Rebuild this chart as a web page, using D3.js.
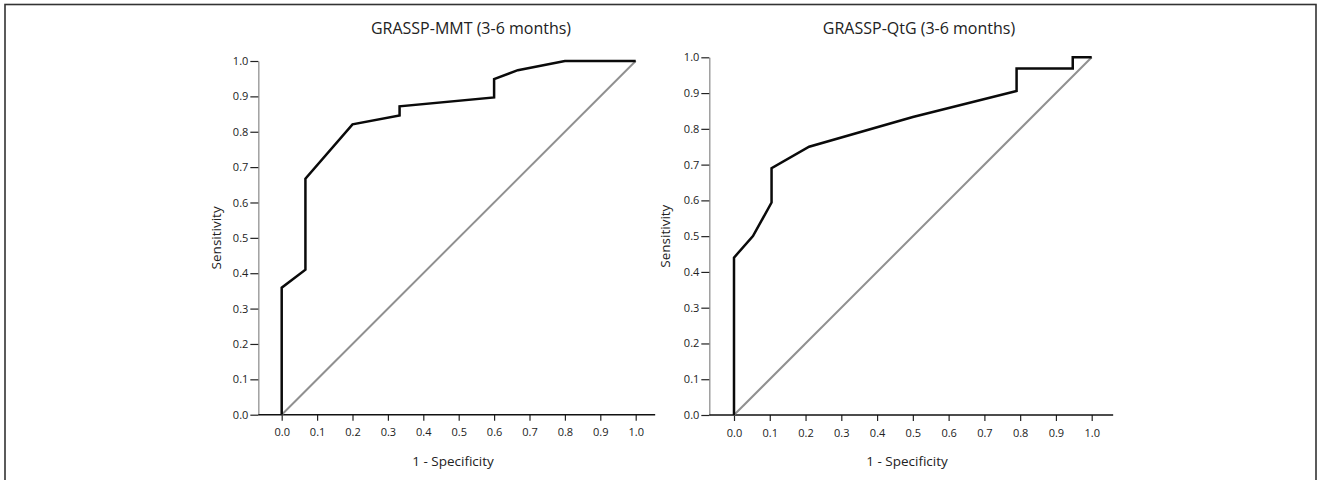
<!DOCTYPE html>
<html>
<head>
<meta charset="utf-8">
<script src="https://cdn.jsdelivr.net/npm/d3@7"></script>
<style>
  body { margin: 0; background: #fff; }
  svg text { font-family: "Open Sans", "Noto Sans", sans-serif; fill: #222; }
</style>
</head>
<body>
<div id="viz"></div>
<script>
const width = 1318;
const height = 480;

// ROC points (1 - specificity, sensitivity)
const mmtFpr = [0, 0, 0.067, 0.067, 0.2, 0.333, 0.333, 0.6, 0.6, 0.667, 0.8, 1];
const mmtTpr = [0, 0.359, 0.41, 0.667, 0.821, 0.846, 0.872, 0.897, 0.949, 0.974, 1, 1];

const qtgFpr = [0, 0, 0.053, 0.105, 0.105, 0.21, 0.5, 0.79, 0.79, 0.947, 0.947, 1];
const qtgTpr = [0, 0.44, 0.5, 0.594, 0.69, 0.75, 0.833, 0.906, 0.969, 0.969, 1, 1];

const refLine = [0, 1];
const ticks = [0, 0.1, 0.2, 0.3, 0.4, 0.5, 0.6, 0.7, 0.8, 0.9, 1.0];
const titles = ['GRASSP-MMT (3-6 months)', 'GRASSP-QtG (3-6 months)'];

const panels = [
  { title: titles[0], fpr: mmtFpr, tpr: mmtTpr,
    xr: [281.7, 635.7], yr: [414.7, 61], xlo: -0.066, xhi: 1.055, titleX: 471, labelX: 453, ylabX: 221 },
  { title: titles[1], fpr: qtgFpr, tpr: qtgTpr,
    xr: [734, 1091.7], yr: [415, 57.3], xlo: -0.069, xhi: 1.06, titleX: 919, labelX: 907, ylabX: 670 }
];

const svg = d3.select('#viz').append('svg')
  .attr('width', width)
  .attr('height', height);

// outer frame
svg.append('rect')
  .attr('x', 5)
  .attr('y', 4.5)
  .attr('width', 1311)
  .attr('height', 500)
  .attr('fill', 'none')
  .attr('stroke', '#333')
  .attr('stroke-width', 1.6);

panels.forEach(p => {
  const x = d3.scaleLinear().domain([0, 1]).range(p.xr);
  const y = d3.scaleLinear().domain([0, 1]).range(p.yr);
  const g = svg.append('g');

  const yaxis = g.append('g')
    .attr('transform', `translate(${x(p.xlo)},0)`)
    .call(d3.axisLeft(y).tickValues(ticks).tickFormat(d3.format('.1f'))
      .tickSize(8).tickSizeOuter(0).tickPadding(2));
  yaxis.select('.domain').attr('stroke', '#888').attr('stroke-width', 1.2);
  yaxis.selectAll('.tick line').attr('stroke', '#222').attr('stroke-width', 1.2);
  yaxis.selectAll('text').style('font-size', '11px').attr('fill', '#222');

  const xaxis = g.append('g')
    .attr('transform', `translate(0,${y(0)})`)
    .call(d3.axisBottom(x).tickValues(ticks).tickFormat(d3.format('.1f'))
      .tickSize(6).tickPadding(8));
  xaxis.select('.domain').remove();
  xaxis.append('line')
    .attr('x1', x(p.xlo))
    .attr('x2', x(p.xhi))
    .attr('stroke', '#111')
    .attr('stroke-width', 1.6);
  xaxis.selectAll('.tick line').attr('stroke', '#222').attr('stroke-width', 1.2);
  xaxis.selectAll('text').style('font-size', '11px').attr('fill', '#222');

  // reference diagonal
  g.append('path')
    .datum(refLine)
    .attr('d', d3.line().x(d => x(d)).y(d => y(d)))
    .attr('fill', 'none')
    .attr('stroke', '#909090')
    .attr('stroke-width', 2);

  // ROC curve
  g.append('path')
    .datum(d3.range(p.fpr.length))
    .attr('d', d3.line().x(i => x(p.fpr[i])).y(i => y(p.tpr[i])))
    .attr('fill', 'none')
    .attr('stroke', '#0a0a0a')
    .attr('stroke-width', 2.5)
    .attr('stroke-linejoin', 'miter');

  g.append('text')
    .attr('x', p.titleX)
    .attr('y', 34)
    .style('text-anchor', 'middle')
    .style('font-size', '16px')
    .text(p.title);

  g.append('text')
    .attr('x', p.labelX)
    .attr('y', 466)
    .style('text-anchor', 'middle')
    .style('font-size', '13.5px')
    .text('1 - Specificity');

  g.append('text')
    .attr('transform', `translate(${p.ylabX},${(y(0) + y(1)) / 2}) rotate(-90)`)
    .style('text-anchor', 'middle')
    .style('font-size', '13.5px')
    .text('Sensitivity');
});
</script>
</body>
</html>
